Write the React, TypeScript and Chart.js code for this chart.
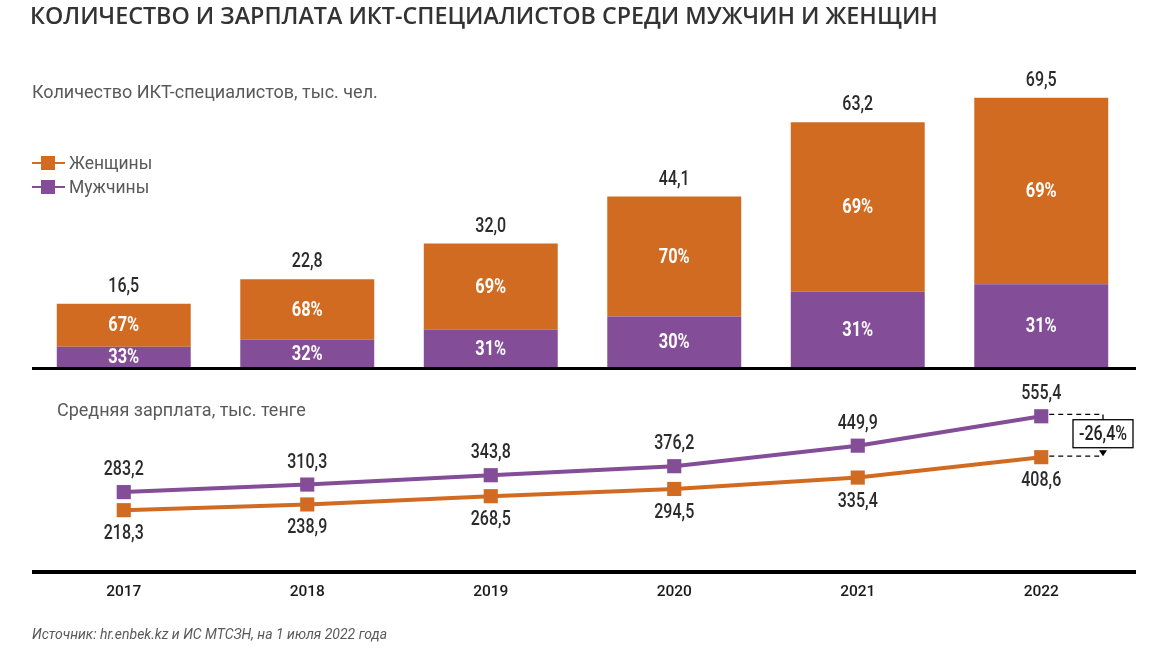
import React, { useEffect, useRef } from "react";
import { Chart, registerables } from "chart.js";

Chart.register(...registerables);

const years = ["2017", "2018", "2019", "2020", "2021", "2022"];
const totals = [16.5, 22.8, 32.0, 44.1, 63.2, 69.5];
const womenPct = [67, 68, 69, 70, 69, 69];
const menPct = [33, 32, 31, 30, 31, 31];
const menSalary = [283.2, 310.3, 343.8, 376.2, 449.9, 555.4];
const womenSalary = [218.3, 238.9, 268.5, 294.5, 335.4, 408.6];
const gapLabel = "-26,4%";

const ORANGE = "#D26B22";
const PURPLE = "#834D97";
const W = 1153;

const fmt = (v: number) => v.toFixed(1).replace(".", ",");

function narrowText(ctx: CanvasRenderingContext2D, text: string, x: number, y: number, sx = 0.8) {
  ctx.save();
  ctx.translate(x, y);
  ctx.scale(sx, 1);
  ctx.fillText(text, 0, 0);
  ctx.restore();
}

export default function App() {
  const topRef = useRef<HTMLCanvasElement | null>(null);
  const botRef = useRef<HTMLCanvasElement | null>(null);

  useEffect(() => {
    document.body.style.margin = "0";
    const menCount = totals.map((t, i) => (t * menPct[i]) / 100);
    const womenCount = totals.map((t, i) => t - menCount[i]);

    const barLabels = {
      id: "barLabels",
      afterDatasetsDraw(chart: any) {
        const ctx = chart.ctx;
        const mMeta = chart.getDatasetMeta(0);
        const wMeta = chart.getDatasetMeta(1);
        ctx.save();
        ctx.textAlign = "center";
        ctx.textBaseline = "middle";
        years.forEach((_, i) => {
          const mb = mMeta.data[i];
          const wb = wMeta.data[i];
          ctx.fillStyle = "#ffffff";
          ctx.font = "bold 20px Roboto, sans-serif";
          narrowText(ctx, `${menPct[i]}%`, mb.x, (mb.y + mb.base) / 2 + 1, 0.82);
          narrowText(ctx, `${womenPct[i]}%`, wb.x, (wb.y + wb.base) / 2 + 1, 0.82);
          ctx.fillStyle = "#2b2b2b";
          ctx.font = "500 20px Roboto, sans-serif";
          narrowText(ctx, fmt(totals[i]), wb.x, wb.y - 17, 0.8);
        });
        ctx.fillStyle = "#000";
        ctx.fillRect(32, chart.chartArea.bottom - 1, 1136 - 32, 3);
        ctx.restore();
      },
    };

    const top = new Chart(topRef.current!, {
      type: "bar",
      data: {
        labels: years,
        datasets: [
          { label: "Мужчины", data: menCount, backgroundColor: PURPLE, borderWidth: 0 },
          { label: "Женщины", data: womenCount, backgroundColor: ORANGE, borderWidth: 0 },
        ],
      },
      options: {
        responsive: false,
        animation: false,
        devicePixelRatio: 1,
        layout: { autoPadding: false, padding: { left: 32, right: 20, top: 57, bottom: 4 } },
        plugins: { legend: { display: false }, tooltip: { enabled: false } },
        datasets: { bar: { barPercentage: 0.73, categoryPercentage: 1 } },
        scales: {
          x: { display: false, stacked: true },
          y: { display: false, stacked: true, min: 0, max: 80 },
        },
      },
      plugins: [barLabels],
    } as any);

    const lineLabels = {
      id: "lineLabels",
      afterDatasetsDraw(chart: any) {
        const ctx = chart.ctx;
        const mMeta = chart.getDatasetMeta(0);
        const wMeta = chart.getDatasetMeta(1);
        const xs = chart.scales.x;
        const bottom = chart.chartArea.bottom;
        ctx.save();
        ctx.textAlign = "center";
        ctx.textBaseline = "middle";
        ctx.font = "500 20px Roboto, sans-serif";
        ctx.fillStyle = "#2b2b2b";
        years.forEach((y, i) => {
          const mp = mMeta.data[i];
          const wp = wMeta.data[i];
          narrowText(ctx, fmt(menSalary[i]), mp.x, mp.y - 22);
          narrowText(ctx, fmt(womenSalary[i]), wp.x, wp.y + 24);
        });
        // bottom rule
        ctx.fillStyle = "#000";
        ctx.fillRect(32, bottom - 1, 1136 - 32, 4);
        // years
        ctx.font = "500 15.5px Roboto, sans-serif";
        ctx.fillStyle = "#1a1a1a";
        years.forEach((y, i) => {
          ctx.fillText(y, xs.getPixelForValue(i), bottom + 21);
        });
        // gap annotation
        const last = years.length - 1;
        const mp = mMeta.data[last];
        const wp = wMeta.data[last];
        const xr = 1103;
        ctx.strokeStyle = "#000";
        ctx.lineWidth = 1.3;
        ctx.setLineDash([5, 4]);
        ctx.beginPath();
        ctx.moveTo(mp.x + 8, mp.y - 2);
        ctx.lineTo(xr, mp.y - 2);
        ctx.lineTo(xr, wp.y - 6);
        ctx.moveTo(wp.x + 8, wp.y - 1);
        ctx.lineTo(xr, wp.y - 1);
        ctx.stroke();
        ctx.setLineDash([]);
        ctx.fillStyle = "#000";
        ctx.beginPath();
        ctx.moveTo(xr - 4, wp.y - 7);
        ctx.lineTo(xr + 4, wp.y - 7);
        ctx.lineTo(xr, wp.y - 1);
        ctx.closePath();
        ctx.fill();
        const by = (mp.y + wp.y) / 2 - 3;
        ctx.fillStyle = "#fff";
        ctx.fillRect(xr - 30, by - 14, 60, 28);
        ctx.lineWidth = 1.3;
        ctx.strokeRect(xr - 30, by - 14, 60, 28);
        ctx.fillStyle = "#222";
        ctx.font = "500 20px Roboto, sans-serif";
        narrowText(ctx, gapLabel, xr, by + 1, 0.8);
        ctx.restore();
      },
    };

    const bot = new Chart(botRef.current!, {
      type: "line",
      data: {
        labels: years,
        datasets: [
          {
            label: "Мужчины",
            data: menSalary,
            borderColor: PURPLE,
            backgroundColor: PURPLE,
            borderWidth: 4,
            pointStyle: "rect",
            pointRadius: 10,
            pointBorderWidth: 0,
            tension: 0,
          },
          {
            label: "Женщины",
            data: womenSalary,
            borderColor: ORANGE,
            backgroundColor: ORANGE,
            borderWidth: 4,
            pointStyle: "rect",
            pointRadius: 10,
            pointBorderWidth: 0,
            tension: 0,
          },
        ],
      },
      options: {
        responsive: false,
        animation: false,
        devicePixelRatio: 1,
        layout: { autoPadding: false, padding: { left: 32, right: 20, top: 4, bottom: 84 } },
        plugins: { legend: { display: false }, tooltip: { enabled: false } },
        scales: {
          x: { display: false, offset: true },
          y: { display: false, min: 0, max: 700 },
        },
      },
      plugins: [lineLabels],
    } as any);

    return () => {
      top.destroy();
      bot.destroy();
    };
  }, []);

  const textBase: React.CSSProperties = {
    position: "absolute",
    fontFamily: "Roboto, sans-serif",
    color: "#595959",
    whiteSpace: "nowrap",
    lineHeight: 1,
  };

  const legendItem = (color: string, label: string, topY: number) => (
    <div style={{ position: "absolute", left: 32, top: topY, height: 20, width: 200 }}>
      <div style={{ position: "absolute", left: 0, top: 9, width: 33, height: 2, background: color }} />
      <div style={{ position: "absolute", left: 9, top: 3, width: 14, height: 14, background: color }} />
      <div style={{ ...textBase, left: 37, top: 2, fontSize: 17.5 }}>{label}</div>
    </div>
  );

  return (
    <div style={{ position: "absolute", left: 0, top: 0, width: W, height: 655, background: "#fff", overflow: "hidden" }}>
      <canvas ref={topRef} width={W} height={372} style={{ position: "absolute", left: 0, top: 0, width: W, height: 372 }} />
      <canvas ref={botRef} width={W} height={283} style={{ position: "absolute", left: 0, top: 372, width: W, height: 283 }} />
      <div
        style={{
          ...textBase,
          left: 30,
          top: 4,
          fontFamily: "'Open Sans', sans-serif",
          fontWeight: 600,
          fontSize: 23.3,
          color: "#333",
        }}
      >
        КОЛИЧЕСТВО И ЗАРПЛАТА ИКТ-СПЕЦИАЛИСТОВ СРЕДИ МУЖЧИН И ЖЕНЩИН
      </div>
      <div style={{ ...textBase, left: 32, top: 83, fontSize: 18 }}>Количество ИКТ-специалистов, тыс. чел.</div>
      {legendItem(ORANGE, "Женщины", 153)}
      {legendItem(PURPLE, "Мужчины", 177)}
      <div style={{ ...textBase, left: 57, top: 401, fontSize: 18 }}>Средняя зарплата, тыс. тенге</div>
      <div style={{ ...textBase, left: 32, top: 627, fontSize: 14, fontStyle: "italic" }}>
        Источник: hr.enbek.kz и ИС МТСЗН, на 1 июля 2022 года
      </div>
    </div>
  );
}
